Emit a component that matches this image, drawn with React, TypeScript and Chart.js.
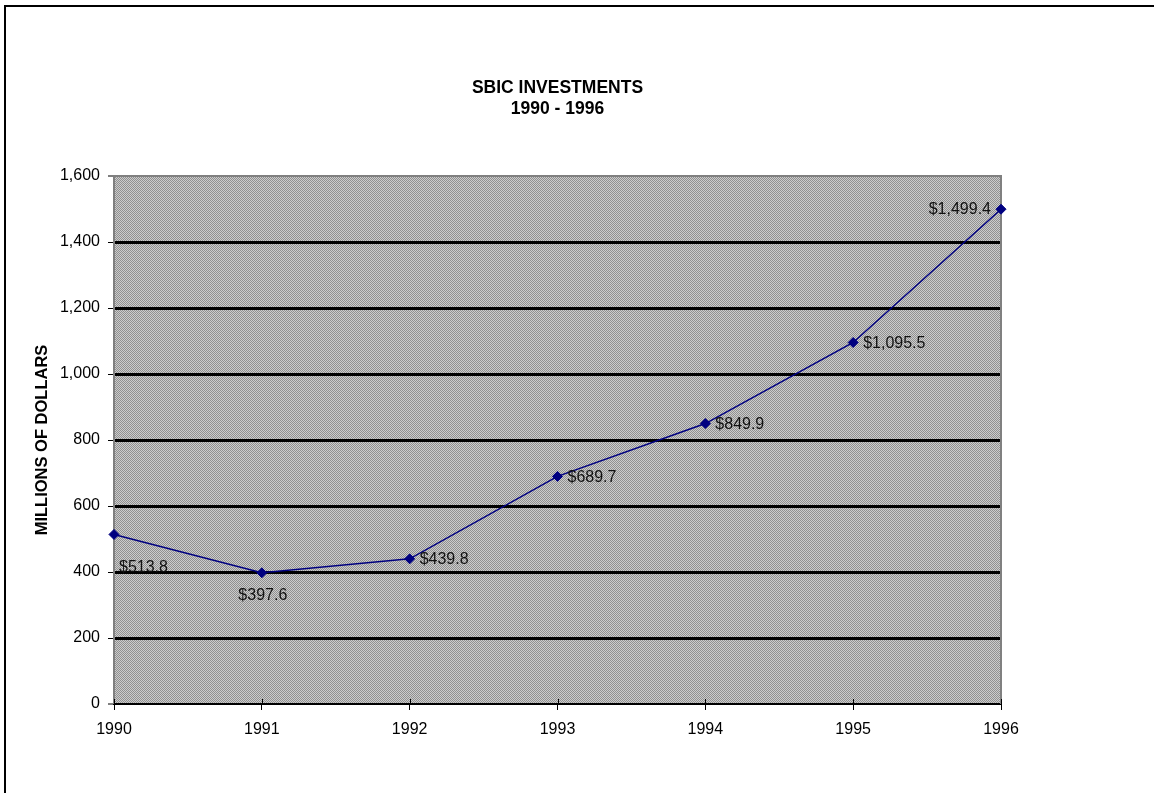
import React, { useEffect, useRef } from "react";
import { Chart, registerables } from "chart.js";

Chart.register(...registerables);

const years = [1990, 1991, 1992, 1993, 1994, 1995, 1996];
const investments = [513.8, 397.6, 439.8, 689.7, 849.9, 1095.5, 1499.4];
const valueLabels = ["$513.8", "$397.6", "$439.8", "$689.7", "$849.9", "$1,095.5", "$1,499.4"];
const labelPlacement = ["belowRight", "below", "right", "right", "right", "right", "left"];
const titleLines = ["SBIC INVESTMENTS", "1990 - 1996"];
const yAxisTitle = "MILLIONS OF DOLLARS";
const yTicks = [0, 200, 400, 600, 800, 1000, 1200, 1400, 1600];

const FONT = "'Liberation Sans', Arial, sans-serif";

function makePattern(ctx: CanvasRenderingContext2D) {
  const c = document.createElement("canvas");
  c.width = 2;
  c.height = 2;
  const p = c.getContext("2d")!;
  p.fillStyle = "#cccccc";
  p.fillRect(0, 0, 2, 2);
  p.fillStyle = "#909090";
  p.fillRect(0, 0, 1, 1);
  p.fillRect(1, 1, 1, 1);
  return ctx.createPattern(c, "repeat");
}

const decorPlugin = {
  id: "decor",
  beforeDraw(chart: any) {
    const { ctx, chartArea: a, width, height } = chart;
    ctx.save();
    ctx.fillStyle = "#ffffff";
    ctx.fillRect(0, 0, width, height);
    // outer frame
    ctx.fillStyle = "#000000";
    ctx.fillRect(4, 5, 2, height);
    ctx.fillRect(4, 5, width, 2);
    // plot background pattern
    const pat = makePattern(ctx);
    if (pat) ctx.fillStyle = pat;
    ctx.fillRect(a.left, a.top, a.right - a.left, a.bottom - a.top);
    // titles
    ctx.fillStyle = "#000000";
    ctx.textAlign = "center";
    ctx.textBaseline = "middle";
    ctx.font = `bold 17.5px ${FONT}`;
    const cx = (a.left + a.right) / 2;
    ctx.fillText(titleLines[0], cx, 88);
    ctx.fillText(titleLines[1], cx, 109);
    // y axis title
    ctx.save();
    ctx.translate(42, (a.top + a.bottom) / 2);
    ctx.rotate(-Math.PI / 2);
    ctx.font = `bold 16.5px ${FONT}`;
    ctx.fillText(yAxisTitle, 0, 0);
    ctx.restore();
    ctx.restore();
  },
  beforeDatasetsDraw(chart: any) {
    const { ctx, chartArea: a, scales } = chart;
    ctx.save();
    // top and right borders of plot area
    ctx.strokeStyle = "#808080";
    ctx.lineWidth = 2;
    ctx.beginPath();
    ctx.moveTo(a.left, a.top);
    ctx.lineTo(a.right, a.top);
    ctx.lineTo(a.right, a.bottom);
    ctx.stroke();
    // inner x tick marks
    ctx.strokeStyle = "#000000";
    ctx.lineWidth = 1;
    ctx.beginPath();
    for (const y of years) {
      const x = Math.round(scales.x.getPixelForValue(y)) + 0.5;
      ctx.moveTo(x, a.bottom);
      ctx.lineTo(x, a.bottom - 5);
    }
    ctx.stroke();
    ctx.restore();
  },
  afterDatasetsDraw(chart: any) {
    const { ctx } = chart;
    const meta = chart.getDatasetMeta(0);
    ctx.save();
    ctx.font = `16px ${FONT}`;
    ctx.fillStyle = "#111111";
    ctx.textBaseline = "middle";
    meta.data.forEach((pt: any, i: number) => {
      const place = labelPlacement[i];
      const t = valueLabels[i];
      if (place === "right") {
        ctx.textAlign = "left";
        ctx.fillText(t, pt.x + 10, pt.y + 1);
      } else if (place === "left") {
        ctx.textAlign = "right";
        ctx.fillText(t, pt.x - 10, pt.y);
      } else if (place === "below") {
        ctx.textAlign = "center";
        ctx.fillText(t, pt.x + 1, pt.y + 23);
      } else if (place === "belowRight") {
        ctx.textAlign = "left";
        ctx.fillText(t, pt.x + 5, pt.y + 33);
      }
    });
    ctx.restore();
  },
};

export default function App() {
  const ref = useRef<HTMLCanvasElement | null>(null);
  useEffect(() => {
    if (!ref.current) return;
    const chart = new Chart(ref.current, {
      type: "line",
      data: {
        datasets: [
          {
            data: years.map((y, i) => ({ x: y, y: investments[i] })),
            borderColor: "#000080",
            backgroundColor: "#000080",
            borderWidth: 1.5,
            pointStyle: "rectRot",
            pointRadius: 5,
            pointBorderWidth: 1,
            tension: 0,
            clip: false as any,
          },
        ],
      },
      options: {
        responsive: false,
        animation: false,
        layout: { padding: { left: 0, top: 176, right: 153, bottom: 0 } },
        plugins: {
          legend: { display: false },
          title: { display: false },
          tooltip: { enabled: false },
        },
        scales: {
          x: {
            type: "linear",
            min: years[0],
            max: years[years.length - 1],
            afterFit: (s: any) => {
              s.height = 89;
            },
            afterBuildTicks: (s: any) => {
              s.ticks = years.map((v) => ({ value: v }));
            },
            ticks: {
              callback: (v: any) => String(v),
              color: "#000000",
              font: { family: FONT, size: 16 },
              padding: 10,
              maxRotation: 0,
              autoSkip: false,
            },
            grid: {
              drawOnChartArea: false,
              drawTicks: true,
              tickLength: 6,
              tickColor: "#000000",
              tickWidth: 1,
            },
            border: { color: "#000000", width: 2 },
          },
          y: {
            min: 0,
            max: 1600,
            afterFit: (s: any) => {
              s.width = 114;
            },
            afterBuildTicks: (s: any) => {
              s.ticks = yTicks.map((v) => ({ value: v }));
            },
            ticks: {
              color: "#000000",
              font: { family: FONT, size: 16 },
              padding: 8,
              callback: (v: any) => Number(v).toLocaleString("en-US"),
            },
            grid: {
              color: "#000000",
              lineWidth: (c: any) => (c.tick && (c.tick.value === 0 || c.tick.value === 1600) ? 0 : 3),
              drawTicks: true,
              tickLength: 6,
              tickColor: "#000000",
              tickWidth: 1,
            },
            border: { color: "#808080", width: 2 },
          },
        },
      },
      plugins: [decorPlugin],
    });
    return () => chart.destroy();
  }, []);
  return (
    <div style={{ position: "fixed", left: 0, top: 0, width: 1154, height: 793, overflow: "hidden", background: "#fff" }}>
      <canvas ref={ref} width={1154} height={793} style={{ display: "block" }} />
    </div>
  );
}
